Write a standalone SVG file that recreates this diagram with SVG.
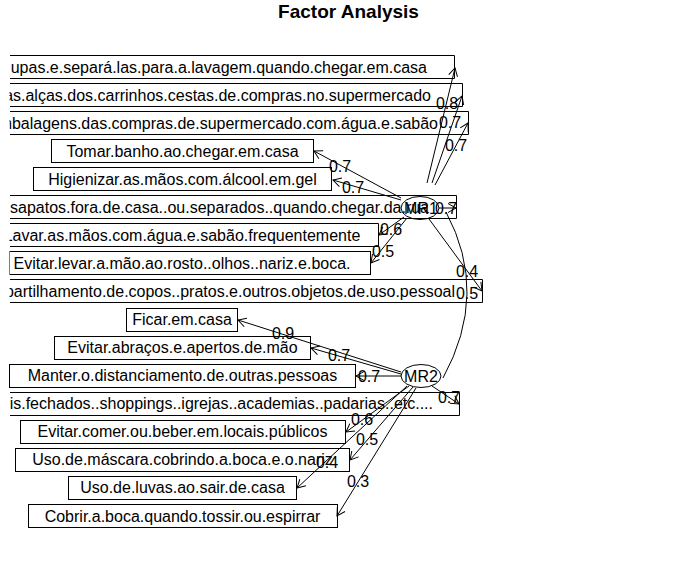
<svg xmlns="http://www.w3.org/2000/svg" width="696" height="574" viewBox="0 0 696 574">
<defs>
<style>
text{font-family:"Liberation Sans",Arial,sans-serif;font-size:16px;fill:#000}
.t{text-anchor:middle}
.e{text-anchor:end}
.box{fill:none;stroke:#000;stroke-width:1}
.fac{fill:none;stroke:#000;stroke-width:1}
.ar{fill:none;stroke:#000;stroke-width:1;marker-end:url(#ah)}
.cv{fill:none;stroke:#000;stroke-width:1}
.lb{text-anchor:middle}
.title{font-size:19px;font-weight:bold;text-anchor:middle}
</style>
<marker id="ah" markerUnits="userSpaceOnUse" markerWidth="14" markerHeight="14" viewBox="-10 -7 12 14" refX="0" refY="0" orient="auto">
<path d="M-8,-4.5 L0,0 L-8,4.5" fill="none" stroke="#000" stroke-width="1"/>
</marker>
<clipPath id="clip"><rect x="9.5" y="0" width="690" height="574"/></clipPath>
</defs>
<rect x="0" y="0" width="696" height="574" fill="#fff"/>
<text class="title" x="348.5" y="18">Factor Analysis</text>

<g id="v1" clip-path="url(#clip)"><path class="box" d="M10,55.5 H454.5 V78.5 H10"/><text class="e" x="427" y="72.5">upas.e.separá.las.para.a.lavagem.quando.chegar.em.casa</text></g>
<g id="v2" clip-path="url(#clip)"><path class="box" d="M10,83.5 H462.5 V106.5 H10"/><text class="e" x="431" y="100.6">as.alças.dos.carrinhos.cestas.de.compras.no.supermercado</text></g>
<g id="v3" clip-path="url(#clip)"><path class="box" d="M10,111.5 H468.5 V134.5 H10"/><text class="e" x="438" y="128.6">mbalagens.das.compras.de.supermercado.com.água.e.sabão</text></g>
<g id="v4"><rect class="box" x="51.5" y="139.5" width="262" height="23"/><text class="t" x="182.5" y="156.7">Tomar.banho.ao.chegar.em.casa</text></g>
<g id="v5"><rect class="box" x="33.5" y="167.5" width="298" height="23"/><text class="t" x="182.5" y="184.7">Higienizar.as.mãos.com.álcool.em.gel</text></g>
<g id="v6" clip-path="url(#clip)"><path class="box" d="M10,195.5 H456.5 V218.5 H10"/><text class="e" x="429" y="212.8">sapatos.fora.de.casa..ou.separados..quando.chegar.da.rua</text></g>
<g id="v7" clip-path="url(#clip)"><path class="box" d="M10,223.5 H378.5 V246.5 H10"/><text class="t" x="182" y="240.9">Lavar.as.mãos.com.água.e.sabão.frequentemente</text></g>
<g id="v8" clip-path="url(#clip)"><rect class="box" x="9.5" y="251.5" width="361" height="23"/><text class="t" x="182" y="268.9">Evitar.levar.a.mão.ao.rosto..olhos..nariz.e.boca.</text></g>
<g id="v9" clip-path="url(#clip)"><path class="box" d="M10,279.5 H482.5 V302.5 H10"/><text class="e" x="455" y="297">partilhamento.de.copos..pratos.e.outros.objetos.de.uso.pessoal</text></g>
<g id="v10"><rect class="box" x="126.5" y="308.5" width="111" height="23"/><text class="t" x="182" y="325">Ficar.em.casa</text></g>
<g id="v11"><rect class="box" x="54.5" y="336.5" width="256" height="23"/><text class="t" x="182.5" y="353.1">Evitar.abraços.e.apertos.de.mão</text></g>
<g id="v12"><rect class="box" x="9.5" y="364.5" width="346" height="23"/><text class="t" x="182.5" y="381.2">Manter.o.distanciamento.de.outras.pessoas</text></g>
<g id="v13" clip-path="url(#clip)"><path class="box" d="M10,392.5 H459.5 V415.5 H10"/><text class="e" x="433" y="409.2">is.fechados..shoppings..igrejas..academias..padarias..etc....</text></g>
<g id="v14"><rect class="box" x="20.5" y="420.5" width="325" height="23"/><text class="t" x="182.5" y="437.3">Evitar.comer.ou.beber.em.locais.públicos</text></g>
<g id="v15"><rect class="box" x="15.5" y="448.5" width="334" height="23"/><text class="t" x="182.5" y="465.3">Uso.de.máscara.cobrindo.a.boca.e.o.nariz</text></g>
<g id="v16"><rect class="box" x="68.5" y="476.5" width="228" height="23"/><text class="t" x="182.5" y="493.4">Uso.de.luvas.ao.sair.de.casa</text></g>
<g id="v17"><rect class="box" x="28.5" y="504.5" width="309" height="23"/><text class="t" x="182.5" y="521.5">Cobrir.a.boca.quando.tossir.ou.espirrar</text></g>

<g id="MR1"><ellipse class="fac" cx="420" cy="208" rx="19" ry="11.5"/><text class="t" x="421" y="213.5">MR1</text></g>
<g id="MR2"><ellipse class="fac" cx="421" cy="376" rx="20" ry="11.5"/><text class="t" x="421" y="381.5">MR2</text></g>

<g id="connectors">
<path class="ar" d="M427,183 L455,68"/>
<path class="ar" d="M432,183 L462,96"/>
<path class="ar" d="M435,185 L468,123"/>
<path class="ar" d="M401,198 L314,151"/>
<path class="ar" d="M401,200 L333,180"/>
<path class="ar" d="M439,208 L456,208"/>
<path class="ar" d="M404,217 L379,235"/>
<path class="ar" d="M407,218 L371,263"/>
<path class="ar" d="M429,219 L482,291"/>
<path class="cv" d="M446,212 Q489.5,293 443,378"/>
<path class="ar" d="M401,372 L238,320"/>
<path class="ar" d="M401,374 L311,348"/>
<path class="ar" d="M401,376 L356,376"/>
<path class="ar" d="M432,386 L459,404"/>
<path class="ar" d="M409,386 L346,432"/>
<path class="ar" d="M413,387 L350,460"/>
<path class="ar" d="M407,386 L297,488"/>
<path class="ar" d="M416,388 L337,516"/>
<text class="lb" x="447" y="108.5">0.8</text>
<text class="lb" x="450" y="127.5">0.7</text>
<text class="lb" x="456" y="150.5">0.7</text>
<text class="lb" x="340" y="172">0.7</text>
<text class="lb" x="353" y="192.5">0.7</text>
<text class="lb" x="446" y="213.5">0.7</text>
<text class="lb" x="391" y="234.5">0.6</text>
<text class="lb" x="383" y="256.5">0.5</text>
<text class="lb" x="467" y="276.5">0.4</text>
<text class="lb" x="467" y="299">0.5</text>
<text class="lb" x="283" y="338.5">0.9</text>
<text class="lb" x="339" y="360.5">0.7</text>
<text class="lb" x="369" y="382">0.7</text>
<text class="lb" x="449" y="403">0.7</text>
<text class="lb" x="362" y="424.5">0.6</text>
<text class="lb" x="367" y="444.5">0.5</text>
<text class="lb" x="327" y="467.5">0.4</text>
<text class="lb" x="358" y="486.5">0.3</text>
</g>
</svg>
